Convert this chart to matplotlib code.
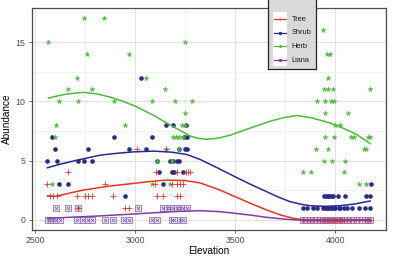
import matplotlib
matplotlib.use("Agg")
import matplotlib.pyplot as plt
from matplotlib.patches import Rectangle
import numpy as np

plt.rcParams['font.family'] = ['Liberation Sans', 'DejaVu Sans']

# ---- point data (elevation, abundance) ----
tree_elev = [2562, 2663, 2575, 2592, 2608, 2708, 2750, 2767, 2787, 2892, 2850, 2717, 2950, 2970, 3008,
             3153, 3105, 3208, 3255, 3267, 3275, 3100, 3183, 3208, 3225, 3242, 3108, 3138, 3208, 3225,
             3842, 3858, 3875, 3892, 3908, 3925, 3942, 3950, 3958, 3967, 3975, 3983, 3992, 4000, 4008,
             4017, 4025, 4033, 4042, 4058, 4075, 4092, 4117, 4150, 4163, 4175]
tree_abund = [3, 4, 2, 2, 2, 2, 2, 2, 2, 2, 3, 1, 1, 1, 6,
              6, 4, 4, 4, 4, 4, 3, 3, 3, 3, 3, 2, 2, 2, 2,
              0, 0, 0, 0, 0, 0, 0, 0, 0, 0, 0, 0, 0, 0, 0,
              0, 0, 0, 0, 0, 0, 0, 0, 0, 0, 0]

shrub_elev = [2583, 2895, 2600, 2767, 2970, 2562, 2608, 2717, 2745, 2787, 2622, 2667, 2950, 3030,
              3085, 3245, 3258, 3055, 3222, 3250, 3262, 3108, 3175, 3192, 3208, 3222, 3122, 3183, 3195,
              3242, 3138, 3153, 3192, 3253,
              4177, 3945, 3955, 3963, 3972, 3980, 3990, 4012, 4047, 4153, 4175,
              3842, 3858, 3892, 3908, 3942, 3950, 3958, 3967, 3975, 3983, 3992, 4000, 4017, 4025,
              4042, 4058, 4083, 4117, 4150, 4175]
shrub_abund = [7, 7, 6, 6, 6, 5, 5, 5, 5, 5, 3, 3, 2, 12,
               7, 7, 7, 6, 6, 6, 6, 5, 5, 5, 5, 5, 4, 4, 4,
               4, 3, 8, 8, 8,
               3, 2, 2, 2, 2, 2, 2, 2, 2, 2, 2,
               1, 1, 1, 1, 1, 1, 1, 1, 1, 1, 1, 1, 1, 1,
               1, 1, 1, 1, 1, 1]

herb_elev = [2563, 2745, 2847, 2762, 2968, 2708, 2663, 2785, 2620, 2713, 2893, 2607, 2948, 2600, 2583,
             3053, 3152, 3083, 3202, 3285, 3252, 3252, 3235, 3252, 3192, 3207, 3222, 3242, 3153, 3222,
             3108, 3183, 3083, 3175,
             3942, 3960, 3975, 3967, 3945, 3965, 3990, 4175, 3912, 3952, 3980, 3993, 3952, 4062, 4000,
             4025, 3952, 3993, 4078, 4093, 4163, 4175, 3907, 3967, 4145, 4153, 3945, 3983, 4050, 3842,
             3882, 4045, 4117, 4153]
herb_abund = [15, 17, 17, 14, 14, 12, 11, 11, 10, 10, 10, 8, 8, 7, 3,
              12, 11, 10, 10, 10, 15, 9, 8, 8, 7, 7, 7, 7, 6, 6,
              5, 5, 3, 3,
              16, 14, 14, 12, 11, 11, 11, 11, 10, 10, 10, 10, 9, 9, 8,
              8, 7, 7, 7, 7, 7, 7, 6, 6, 6, 6, 5, 5, 5, 4,
              4, 4, 3, 3]

liana_elev = [2605, 2663, 2713, 3017, 3142, 3158, 3175, 3192, 3208, 3225, 3242, 3258,
              2567, 2580, 2592, 2605, 2625, 2708, 2742, 2767, 2787, 2850, 2892, 2945, 2970,
              3083, 3108, 3183, 3195, 3225, 3242,
              3842, 3858, 3875, 3892, 3908, 3925, 3942, 3950, 3958, 3967, 3975, 3983, 3992, 4000, 4008,
              4017, 4025, 4033, 4042, 4058, 4075, 4092, 4117, 4150, 4163, 4175]
liana_abund = [1, 1, 1, 1, 1, 1, 1, 1, 1, 1, 1, 1,
               0, 0, 0, 0, 0, 0, 0, 0, 0, 0, 0, 0, 0,
               0, 0, 0, 0, 0, 0,
               0, 0, 0, 0, 0, 0, 0, 0, 0, 0, 0, 0, 0, 0, 0,
               0, 0, 0, 0, 0, 0, 0, 0, 0, 0, 0]

# ---- smoothed trend lines ----
herb_fit_x = [2567, 2610, 2660, 2742, 2810, 2875, 2940, 3000, 3092, 3150, 3208, 3275, 3320, 3358, 3410,
              3475, 3550, 3620, 3680, 3750, 3808, 3880, 3958, 4010, 4058, 4108, 4175]
herb_fit_y = [10.28, 10.45, 10.62, 10.76, 10.62, 10.36, 10.0, 9.6, 8.82, 8.25, 7.7, 7.08, 6.86, 6.8, 6.88,
              7.14, 7.6, 8.0, 8.35, 8.65, 8.8, 8.62, 8.26, 7.95, 7.6, 7.2, 6.44]
shrub_fit_x = [2562, 2630, 2700, 2825, 2910, 2992, 3092, 3180, 3258, 3325, 3420, 3500, 3580, 3658,
               3720, 3775, 3830, 3875, 3950, 4025, 4100, 4175]
shrub_fit_y = [4.4, 4.72, 5.0, 5.46, 5.62, 5.74, 5.8, 5.72, 5.52, 5.1, 4.32, 3.64, 2.98, 2.38,
               1.9, 1.54, 1.32, 1.2, 1.15, 1.2, 1.35, 1.6]
tree_fit_x = [2563, 2600, 2670, 2742, 2870, 2992, 3080, 3158, 3250, 3325, 3420, 3500, 3580, 3658,
              3730, 3792, 3842, 4000, 4175]
tree_fit_y = [2.04, 1.98, 2.25, 2.52, 2.85, 3.08, 3.25, 3.36, 3.32, 3.12, 2.55, 1.96, 1.38, 0.84,
              0.4, 0.14, 0.0, -0.02, 0.0]
liana_fit_x = [2563, 2700, 2825, 2992, 3192, 3325, 3420, 3500, 3580, 3658, 3740, 3808, 4000, 4175]
liana_fit_y = [0.14, 0.24, 0.34, 0.5, 0.7, 0.78, 0.7, 0.56, 0.4, 0.22, 0.08, 0.0, 0.0, 0.0]

species = ["Tree", "Shrub", "Herb", "Liana"]
colors = {"Tree": "#ee3124", "Shrub": "#262a8c", "Herb": "#4cbb3a", "Liana": "#7b3f9e"}

fig = plt.figure(figsize=(4.06, 2.57), dpi=100)
ax = fig.add_axes([0.078, 0.105, 0.873, 0.863])

ax.set_facecolor("white")
ax.set_xlim(2483, 4255)
ax.set_ylim(-0.85, 17.85)
ax.set_xticks([2500, 3000, 3500, 4000])
ax.set_yticks([0, 5, 10, 15])
ax.set_xticks([2750, 3250, 3750, 4250], minor=True)
ax.set_yticks([2.5, 7.5, 12.5, 17.5], minor=True)
ax.grid(which="major", color="#e3e3e3", linewidth=0.8)
ax.grid(which="minor", color="#efefef", linewidth=0.5)
ax.set_axisbelow(True)
ax.tick_params(which="major", length=2.5, width=0.6, color="#4d4d4d", labelsize=6.3,
               labelcolor="#4d4d4d", pad=2)
ax.tick_params(which="minor", length=0)
for s in ax.spines.values():
    s.set_color("#4d4d4d")
    s.set_linewidth(0.9)
ax.set_xlabel("Elevation", fontsize=7.2)
ax.set_ylabel("Abundance", fontsize=7.2)
ax.xaxis.set_label_coords(0.5, -0.072)
ax.yaxis.set_label_coords(-0.056, 0.5)

# points
ax.scatter(shrub_elev, shrub_abund, s=11, color=colors["Shrub"], linewidths=0, zorder=3)
ax.scatter(herb_elev, herb_abund, s=16, marker="*", color=colors["Herb"], linewidths=0.2,
           edgecolors=colors["Herb"], zorder=3)
ax.scatter(liana_elev, liana_abund, s=14, marker="s", facecolors="#e4dcef",
           edgecolors="#9477bb", linewidths=0.6, zorder=4)
ax.scatter(liana_elev, liana_abund, s=5, marker="x", color="#7b5aa8", linewidths=0.5, zorder=4)
ax.scatter(tree_elev, tree_abund, s=20, marker="+", color=colors["Tree"], linewidths=0.6, zorder=5)

# trend lines
ax.plot(tree_fit_x, tree_fit_y, color=colors["Tree"], lw=1.1, zorder=6)
ax.plot(shrub_fit_x, shrub_fit_y, color=colors["Shrub"], lw=1.1, zorder=6)
ax.plot(herb_fit_x, herb_fit_y, color=colors["Herb"], lw=1.1, zorder=6)
ax.plot(liana_fit_x, liana_fit_y, color=colors["Liana"], lw=1.1, zorder=6)

# legend box (top runs off the figure, as in the original)
lx0, lx1, ly_top, ly_bot = 268.3, 316.0, -4.0, 69.3
lax = fig.add_axes([lx0 / 406, 1 - ly_bot / 257, (lx1 - lx0) / 406, (ly_bot - ly_top) / 257])
lax.set_xlim(lx0, lx1)
lax.set_ylim(ly_bot, ly_top)
lax.set_facecolor("#d9d9d9")
lax.set_xticks([])
lax.set_yticks([])
for s in lax.spines.values():
    s.set_color("#222222")
    s.set_linewidth(0.9)
lax.add_patch(Rectangle((272.7, 11.5), 14.0, 55.0, facecolor="white", edgecolor="none"))
key_y = [19.3, 33.0, 46.5, 60.0]
markers = {"Tree": "+", "Shrub": "o", "Herb": "*", "Liana": "s"}
for sp, yy in zip(species, key_y):
    lax.plot([274, 285.5], [yy, yy], color=colors[sp], lw=0.9)
    lax.plot([279.7], [yy], marker=markers[sp], color=colors[sp], ms=1.8, mew=0.6)
    lax.text(291.5, yy, sp, fontsize=5.3, va="center", ha="left", color="#1a1a1a")

fig.savefig("out.png", dpi=100)
